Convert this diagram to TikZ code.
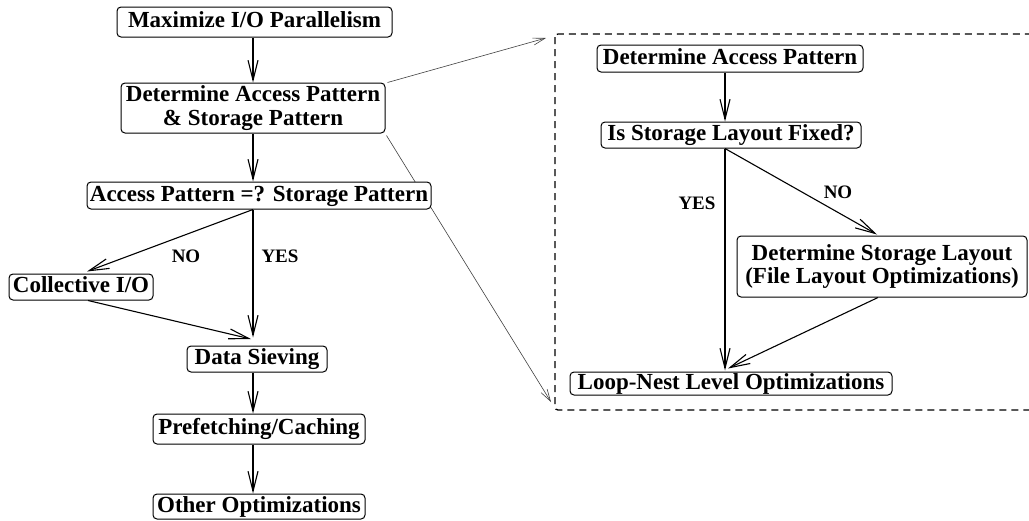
\documentclass[tikz,border=0pt]{standalone}
\usepackage{fontspec}
\setmainfont{Liberation Serif}
\usetikzlibrary{arrows.meta,calc}
\pgfdeclarelayer{bg}
\pgfsetlayers{bg,main}
\tikzset{
  box/.style={draw=black, line width=1pt, rounded corners=4pt, fill=white,
    inner sep=0pt, align=center, font=\bfseries\fontsize{23}{23.5}\selectfont,
    text height=16pt, text depth=5pt},
  flow/.style={draw=black, line width=1.1pt,
    -{Straight Barb[length=20pt,width=10pt,line width=1.1pt]}},
  zoomline/.style={draw=black!75, line width=0.6pt,
    -{Straight Barb[length=12pt,width=7pt,line width=0.6pt]}},
  lbl/.style={font=\bfseries\fontsize{19}{20}\selectfont, inner sep=0pt},
}
\begin{document}
\begin{tikzpicture}[x=1pt,y=-1pt]
\useasboundingbox (0,0) rectangle (1029,520);
\clip (0,0) rectangle (1029,520);

% main flow (left)
\node[box, minimum width=275pt, minimum height=30pt] (max) at (254.5,22) {Maximize I/O Parallelism};
\node[box, minimum width=264pt, minimum height=50pt, text height=, text depth=] (det) at (253,108)
  {Determine Access Pattern\\\& Storage Pattern};
\node[box, minimum width=344pt, minimum height=27pt] (cmp) at (259,195.5) {Access Pattern =? Storage Pattern};
\node[box, minimum width=144pt, minimum height=26pt] (coll) at (81,287) {Collective I/O};
\node[box, minimum width=140pt, minimum height=26pt] (sieve) at (257,359) {Data Sieving};
\node[box, minimum width=212pt, minimum height=30pt] (pref) at (259,429) {Prefetching/Caching};
\node[box, minimum width=212pt, minimum height=25pt] (other) at (259,506.5) {Other Optimizations};

\coordinate (lx) at (253,0);
\draw[flow] (lx |- max.south) -- (lx |- det.north);
\draw[flow] (lx |- det.south) -- (lx |- cmp.north);
\draw[flow] (lx |- cmp.south) -- ($(coll.north)+(6,-2)$);
\draw[flow, shorten >=8pt] (lx |- cmp.south) -- (lx |- sieve.north);
\draw[flow, shorten >=2pt] ($(coll.south)+(7,0)$) -- ($(lx |- sieve.north)+(0,-6)$);
\draw[flow] (lx |- sieve.south) -- (lx |- pref.north);
\draw[flow] (lx |- pref.south) -- (lx |- other.north);

\node[lbl] (no1) at (186,256) {NO};
\node[lbl] (yes1) at (280,256) {YES};

% detail panel (right)
\draw[line width=1.3pt, draw=black, dash pattern=on 7pt off 5pt, rounded corners=3pt]
  (555,34) rectangle (1045,410);

\node[box, minimum width=266pt, minimum height=27pt] (acc) at (730,58.5) {Determine Access Pattern};
\node[box, minimum width=260pt, minimum height=26pt] (fixed) at (731,135) {Is Storage Layout Fixed?};
\node[box, minimum width=290pt, minimum height=61pt, text height=, text depth=] (layout) at (882,266.5)
  {Determine Storage Layout\\(File Layout Optimizations)};
\node[box, minimum width=322pt, minimum height=23pt] (loop) at (731,383.5) {Loop-Nest Level Optimizations};

\coordinate (rx) at (725,0);
\draw[flow] (rx |- acc.south) -- (rx |- fixed.north);
\draw[flow] (rx |- fixed.south) -- ($(rx |- loop.north)+(0,-1)$);
\draw[flow] (rx |- fixed.south) -- ($(layout.north)+(-5,-1)$);
\draw[flow] ($(layout.south)+(-4,0)$) -- ($(loop.north)+(-3,-3)$);

\node[lbl] (yes2) at (697,203) {YES};
\node[lbl] (no2) at (838,192) {NO};

% zoom lines from the left box to the detail panel, behind the boxes
\coordinate (zt) at (546,38);
\coordinate (zb) at (551,402);
\begin{pgfonlayer}{bg}
\draw[zoomline] ($(det.north east)+(2,0)$) -- (zt);
\draw[zoomline] ($(det.south east)+(1,2)$) -- (zb);
\end{pgfonlayer}
\end{tikzpicture}
\end{document}
